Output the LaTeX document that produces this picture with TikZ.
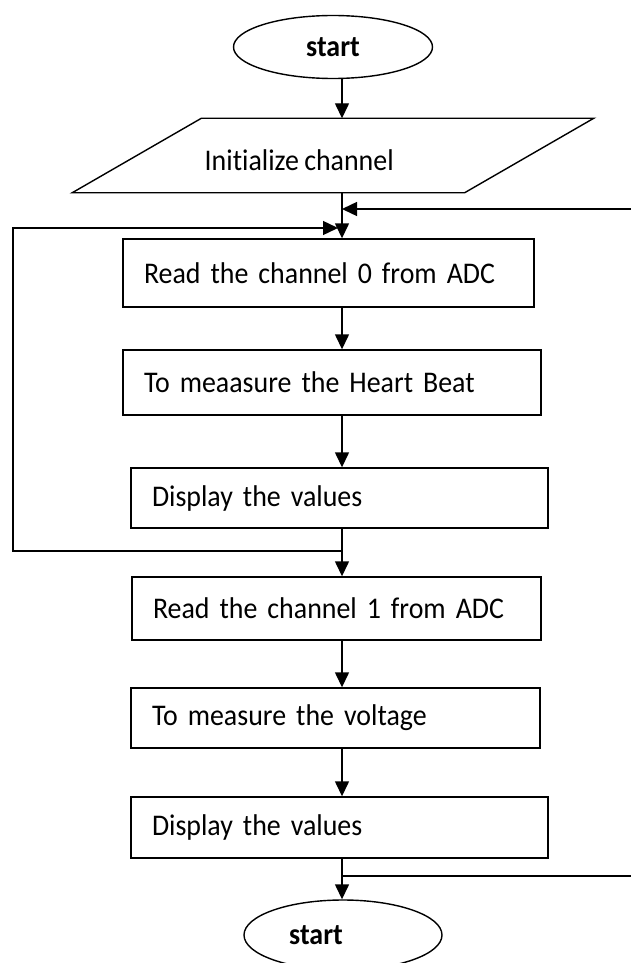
\documentclass[tikz,border=0pt]{standalone}
\usepackage{fontspec}
\setmainfont[FakeStretch=0.93,WordSpace=0.85,Ligatures=NoCommon]{Carlito}
\usetikzlibrary{arrows.meta,shapes.geometric}
\begin{document}
\begin{tikzpicture}[x=1pt,y=-1pt,
  font=\fontsize{30}{34}\selectfont,
  line width=1.4pt,
  arr/.style={-{Triangle[length=15pt,width=14pt]}},
  terminal/.style={draw,ellipse,inner sep=0pt,font=\fontsize{30}{34}\selectfont\bfseries},
  procbox/.style={draw,rectangle,inner xsep=21pt,inner ysep=0pt,align=left,anchor=center}
]
\useasboundingbox (0,0) rectangle (631,963);
\coordinate (col) at (342,0);
% start
\node[terminal,minimum width=199pt,minimum height=63pt] (s1) at (333,47) {start};
% parallelogram
\node[rectangle,minimum width=391pt,minimum height=73pt,inner sep=0pt] (par) at (333,155.5) {};
\draw ([xshift=64.5pt]par.north west) -- ([xshift=64.5pt]par.north east)
  -- ([xshift=-64.5pt]par.south east) -- ([xshift=-64.5pt]par.south west) -- cycle;
\node[anchor=west,inner sep=0pt] (partext) at (204,160) {Initialize channel};
% boxes
\node[procbox,minimum width=411pt,minimum height=68pt,text width=369pt] (b1) at (328.5,273) {Read the channel 0 from ADC};
\node[procbox,minimum width=418pt,minimum height=65pt,text width=376pt] (b2) at (332,382.5) {To meaasure the Heart Beat};
\node[procbox,minimum width=417pt,minimum height=60pt,text width=375pt] (b3) at (339.5,498) {Display the values};
\node[procbox,minimum width=409pt,minimum height=63pt,text width=367pt] (b4) at (336.5,608.5) {Read the channel 1 from ADC};
\node[procbox,minimum width=409pt,minimum height=60pt,text width=367pt] (b5) at (335.5,718) {To measure the voltage};
\node[procbox,minimum width=417pt,minimum height=61pt,text width=375pt] (b6) at (339.5,827.5) {Display the values};
% end
\node[terminal,minimum width=198pt,minimum height=70pt] (s2) at (343,935) {start\hspace*{54pt}};
% connectors
\draw[arr] (s1.south -| col) -- (par.north -| col);
\draw[arr] (par.south -| col) -- (b1.north -| col);
\draw[arr] (b1.south -| col) -- (b2.north -| col);
\draw[arr] (b2.south -| col) -- (b3.north -| col);
\draw[arr] (b3.south -| col) -- (b4.north -| col);
\draw[arr] (b4.south -| col) -- (b5.north -| col);
\draw[arr] (b5.south -| col) -- (b6.north -| col);
\draw[arr] (b6.south -| col) -- (s2.north -| col);
% right feedback lines
\coordinate (rin) at (631,209);
\coordinate (rout) at (631,876);
\draw[arr] (rin) -- (rin -| col);
\draw (rout -| col) -- (rout);
% left loop
\coordinate (lj) at (342,551);
\coordinate (lt) at (338,228);
\draw[arr] (lj) -- (13,551) -- (13,228) -- (lt);
\end{tikzpicture}
\end{document}
